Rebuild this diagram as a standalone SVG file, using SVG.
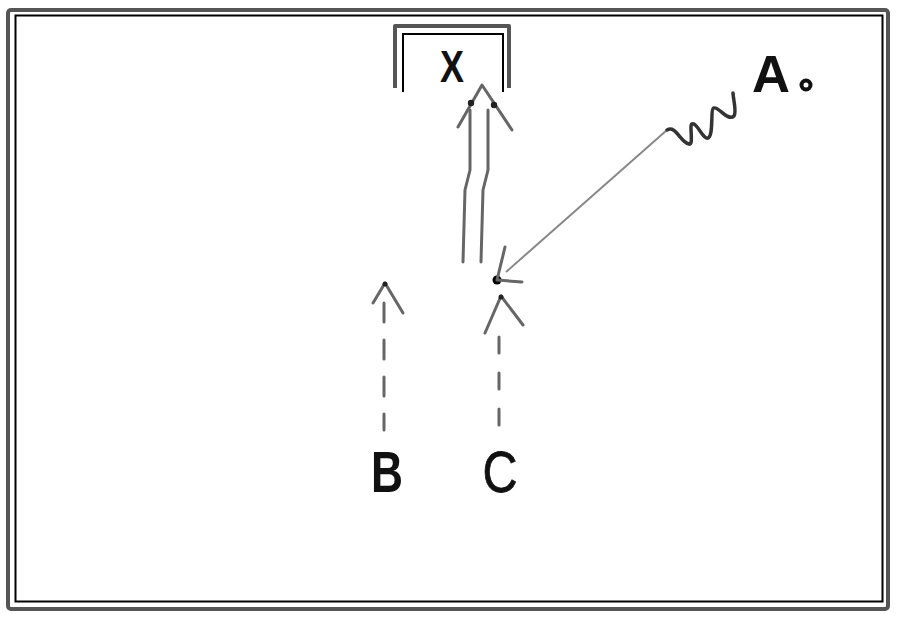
<svg xmlns="http://www.w3.org/2000/svg" width="900" height="620" viewBox="0 0 900 620">
<style>
.frame{fill:none;stroke:#555;stroke-width:4;stroke-linejoin:round}
.thin{fill:none;stroke:#000;stroke-width:2}
.shaft{fill:none;stroke:#666;stroke-width:3;stroke-linecap:round;stroke-linejoin:round}
.dash{fill:none;stroke:#666;stroke-width:3;stroke-linecap:round}
.lbl{font-family:"Liberation Sans",Arial,sans-serif;fill:#111;text-anchor:middle}
</style>
<rect width="900" height="620" fill="#fff"/>
<rect class="frame" x="8" y="10" width="880" height="599" rx="3"/>
<rect class="thin" x="15.5" y="15.5" width="867" height="586" stroke-width="1.5"/>
<g id="X">
<path class="frame" d="M395,88 V26 H509 V88" stroke-width="4"/>
<path class="thin" d="M403,92 V34 H503 V92" stroke-width="1.5"/>
<text class="lbl" x="452" y="82" font-size="44" font-weight="bold" textLength="24" lengthAdjust="spacingAndGlyphs">X</text>
</g>
<g id="A">
<text class="lbl" x="771" y="92" font-size="52" font-weight="bold" textLength="38" lengthAdjust="spacingAndGlyphs">A</text>
<circle cx="806" cy="85" r="4.5" fill="none" stroke="#111" stroke-width="4"/>
</g>
<g id="B">
<text class="lbl" x="387" y="492" font-size="57" font-weight="bold" textLength="32" lengthAdjust="spacingAndGlyphs">B</text>
</g>
<g id="C">
<text class="lbl" x="500" y="492" font-size="58" textLength="35" lengthAdjust="spacingAndGlyphs" stroke="#111" stroke-width="0.8">C</text>
</g>
<g id="vertex">
<circle cx="497" cy="280" r="4.5" fill="#000"/>
</g>
<g id="connectors">
<!-- double arrow to X -->
<path class="shaft" d="M463,262 L465,190 L470,170 L470,110"/>
<path class="shaft" d="M481,262 L483,190 L488,170 L488,110"/>
<path class="shaft" d="M458,127 L482,85 L512,130"/>
<circle cx="471" cy="103" r="3.2" fill="#222"/>
<circle cx="494" cy="105" r="3.2" fill="#222"/>
<!-- A to vertex: straight part -->
<path d="M667,130 L506,272" fill="none" stroke="#888" stroke-width="2"/>
<!-- wavy part -->
<path d="M667,130 C676,125 680,142 689,144 C694,146 689,124 692,124 C697,122 703,140 708,138 C714,136 710,108 714,108 C718,106 728,122 734,116 C737,112 733,98 733,93" fill="none" stroke="#333" stroke-width="3.5" stroke-linecap="round"/>
<path class="shaft" d="M505,247 L497,280 L522,282"/>
<!-- C to vertex -->
<line class="dash" x1="499" y1="425" x2="499" y2="330" stroke-dasharray="16,20"/>
<path class="shaft" d="M485,333 L501,296 L523,325"/>
<circle cx="501" cy="297" r="2.5" fill="#222"/>
<!-- B arrow -->
<line class="dash" x1="384" y1="303" x2="384" y2="430" stroke-dasharray="19,18"/>
<path class="shaft" d="M373,303 L385,283 L403,313"/>
<circle cx="385" cy="284" r="2.5" fill="#222"/>
</g>
</svg>
